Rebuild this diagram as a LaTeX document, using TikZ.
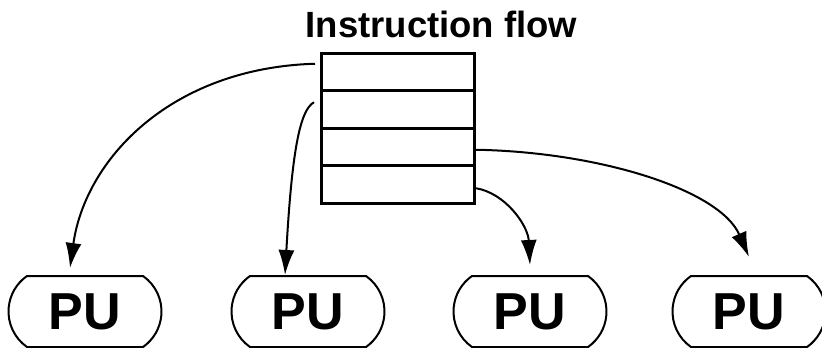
\documentclass[tikz,border=0pt]{standalone}
\usepackage{fontspec}
\setmainfont{Liberation Sans}
\usetikzlibrary{shapes.misc,arrows.meta,calc}
\begin{document}
\begin{tikzpicture}[x=1pt,y=-1pt,
  rowbox/.style={draw,line width=3pt,minimum width=153pt,minimum height=37.5pt,inner sep=0pt,outer sep=0pt},
  pubox/.style={draw,line width=2pt,rounded rectangle,rounded rectangle arc length=110,
    minimum width=153pt,minimum height=71pt,inner sep=0pt,
    font=\fontsize{52}{52}\selectfont\bfseries},
  flow/.style={line width=2pt,-{Latex[length=25pt,width=16pt]}}]
\useasboundingbox (0,0) rectangle (822,348);
\node[anchor=base,font=\fontsize{36.5}{36.5}\selectfont\bfseries] (title) at (441.5,37) {Instruction flow};
\node[rowbox] (r1) at (397.5,71.75) {};
\node[rowbox] (r2) at (397.5,109.25) {};
\node[rowbox] (r3) at (397.5,146.75) {};
\node[rowbox] (r4) at (397.5,184.25) {};
\node[pubox] (pu1) at (85,311.5) {PU};
\node[pubox] (pu2) at (308,311.5) {PU};
\node[pubox] (pu3) at (530,311.5) {PU};
\node[pubox] (pu4) at (749,311.5) {PU};
\draw[flow] ($(r1.west)+(-6,-8)$) .. controls (170,68) and (85,160) .. ($(pu1.north)+(-15,-7)$);
\draw[flow] ($(r2.west)+(-7,-7)$) .. controls (300,110) and (292,150) .. ($(pu2.north)+(-23,0)$);
\draw[flow] ($(r4.east)+(2,4)$) .. controls (505,193) and (528,225) .. ($(pu3.north)+(0,-10)$);
\draw[flow] ($(r3.east)+(2,3)$) .. controls (600,152) and (720,190) .. ($(pu4.north)+(0,-18)$);
\end{tikzpicture}
\end{document}
